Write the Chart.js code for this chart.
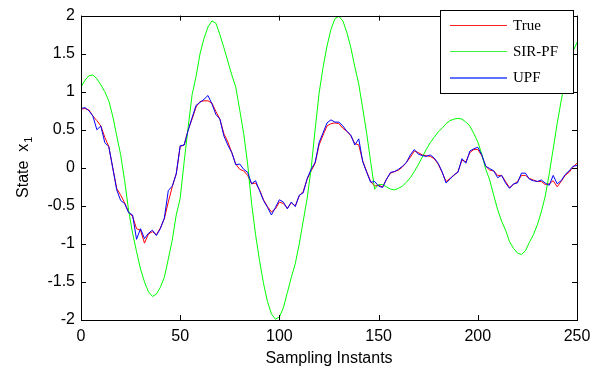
<!DOCTYPE html>
<html>
<head>
<meta charset="utf-8">
<script src="https://cdn.jsdelivr.net/npm/chart.js@4.4.0/dist/chart.umd.min.js"></script>
<style>
  html, body { margin: 0; padding: 0; background: #fff; }
  #wrap { width: 602px; height: 372px; }
</style>
</head>
<body>
<div id="wrap"><canvas id="myChart"></canvas></div>
<script>
// state x1, one value every 2 sampling instants (0..250)
const trueVals = [
  0.77, 0.78, 0.76, 0.68, 0.62, 0.55, 0.40, 0.28, 0.00, -0.27, -0.36, -0.46, -0.58,
  -0.64, -0.80, -0.82, -0.99, -0.87, -0.84, -0.88, -0.79, -0.67, -0.45, -0.25, -0.08, 0.28,
  0.30, 0.50, 0.64, 0.80, 0.87, 0.88, 0.88, 0.85, 0.74, 0.64, 0.45, 0.34, 0.20,
  0.05, -0.02, -0.04, -0.10, -0.21, -0.20, -0.29, -0.42, -0.51, -0.58, -0.54, -0.45,
  -0.47, -0.53, -0.46, -0.50, -0.37, -0.31, -0.15, -0.04, 0.06, 0.30, 0.43, 0.55, 0.58,
  0.59, 0.58, 0.52, 0.48, 0.42, 0.32, 0.30, 0.09, -0.05, -0.18, -0.24, -0.23,
  -0.25, -0.15, -0.07, -0.05, -0.03, 0.01, 0.07, 0.14, 0.22, 0.20, 0.17, 0.16, 0.15,
  0.12, 0.05, -0.06, -0.18, -0.14, -0.10, -0.05, 0.10, 0.08, 0.20, 0.24, 0.24,
  0.16, 0.02, -0.03, -0.04, -0.10, -0.10, -0.18, -0.26, -0.22, -0.18, -0.10, -0.10, -0.14,
  -0.16, -0.18, -0.18, -0.22, -0.21, -0.17, -0.25, -0.18, -0.10, -0.06, 0.01, 0.06
]

const sirVals = [
  1.06, 1.15, 1.21, 1.22, 1.17, 1.09, 1.00, 0.88, 0.68, 0.42, 0.17, -0.17, -0.56,
  -0.86, -1.10, -1.33, -1.50, -1.63, -1.69, -1.66, -1.57, -1.44, -1.20, -0.95, -0.62, -0.40,
  0.08, 0.53, 0.96, 1.20, 1.50, 1.70, 1.85, 1.93, 1.90, 1.75, 1.58, 1.40, 1.22,
  1.06, 0.76, 0.45, 0.05, -0.47, -0.88, -1.22, -1.52, -1.76, -1.92, -1.99, -1.96,
  -1.84, -1.64, -1.44, -1.26, -1.00, -0.70, -0.40, -0.01, 0.50, 0.98, 1.32, 1.60, 1.82,
  1.96, 1.99, 1.93, 1.78, 1.58, 1.33, 1.10, 0.78, 0.45, 0.08, -0.28, -0.22,
  -0.22, -0.25, -0.28, -0.29, -0.27, -0.24, -0.19, -0.13, -0.05, 0.04, 0.14, 0.24, 0.33,
  0.40, 0.47, 0.52, 0.58, 0.62, 0.64, 0.65, 0.64, 0.60, 0.55, 0.45, 0.34,
  0.18, -0.02, -0.16, -0.36, -0.55, -0.70, -0.82, -0.97, -1.06, -1.12, -1.14, -1.09, -0.98,
  -0.88, -0.75, -0.58, -0.37, -0.08, 0.25, 0.58, 0.88, 1.15, 1.38, 1.53, 1.65
]

const upfVals = [
  0.78, 0.79, 0.75, 0.68, 0.50, 0.55, 0.33, 0.28, 0.00, -0.29, -0.43, -0.47, -0.59,
  -0.62, -0.94, -0.80, -0.93, -0.86, -0.82, -0.89, -0.80, -0.66, -0.30, -0.24, -0.08, 0.29,
  0.30, 0.49, 0.66, 0.82, 0.86, 0.90, 0.95, 0.84, 0.70, 0.64, 0.42, 0.30, 0.20,
  0.04, 0.05, -0.02, -0.06, -0.21, -0.17, -0.30, -0.43, -0.52, -0.62, -0.52, -0.42,
  -0.45, -0.54, -0.45, -0.51, -0.36, -0.33, -0.14, -0.02, 0.07, 0.33, 0.46, 0.59, 0.63,
  0.60, 0.60, 0.55, 0.48, 0.43, 0.30, 0.38, 0.08, -0.06, -0.19, -0.18, -0.24,
  -0.26, -0.15, -0.06, -0.05, -0.02, 0.02, 0.07, 0.17, 0.24, 0.18, 0.16, 0.15, 0.17,
  0.13, 0.06, -0.05, -0.20, -0.15, -0.09, -0.06, 0.12, 0.06, 0.22, 0.25, 0.27,
  0.17, 0.02, -0.01, -0.04, -0.13, -0.10, -0.20, -0.27, -0.21, -0.20, -0.07, -0.07, -0.15,
  -0.17, -0.18, -0.16, -0.20, -0.23, -0.10, -0.21, -0.17, -0.09, -0.04, 0.02, 0.03
]

const seriesNames = ["True", "SIR-PF", "UPF"]
const seriesColors = ["#ff0000", "#00ff00", "#0000ff"]
const legendColors = ["#ff2020", "#40f040", "#6070ff"]
const xTicks = [0, 50, 100, 150, 200, 250]
const yTicks = [-2, -1.5, -1, -0.5, 0, 0.5, 1, 1.5, 2]

// sampling instant of each value
const instants = trueVals.map(function (v, i) { return i * 2 })

function toPoints(vals) {
  return vals.map(function (v, i) { return { x: instants[i], y: v } })
}

// matlab style frame: box, inward ticks, y label with subscript, boxed legend
var matlabFrame = {
  id: 'matlabFrame',
  afterDraw: function (chart) {
    var ctx = chart.ctx
    var a = chart.chartArea
    var xs = chart.scales.x
    var ys = chart.scales.y
    ctx.save()
    ctx.strokeStyle = '#000'
    ctx.lineWidth = 1
    ctx.beginPath()
    xTicks.forEach(function (t) {
      var px = Math.round(xs.getPixelForValue(t)) + 0.5
      ctx.moveTo(px, a.bottom); ctx.lineTo(px, a.bottom - 5)
      ctx.moveTo(px, a.top); ctx.lineTo(px, a.top + 5)
    })
    yTicks.forEach(function (t) {
      var py = Math.round(ys.getPixelForValue(t)) + 0.5
      ctx.moveTo(a.left, py); ctx.lineTo(a.left + 5, py)
      ctx.moveTo(a.right, py); ctx.lineTo(a.right - 5, py)
    })
    ctx.stroke()
    ctx.strokeRect(Math.round(a.left) + 0.5, Math.round(a.top) + 0.5,
      Math.round(a.right - a.left), Math.round(a.bottom - a.top))

    // y axis title
    ctx.save()
    ctx.translate(28, (a.top + a.bottom) / 2)
    ctx.rotate(-Math.PI / 2)
    ctx.fillStyle = '#000'
    ctx.textBaseline = 'alphabetic'
    ctx.textAlign = 'left'
    var main = 'State  x'
    ctx.font = '16px "Liberation Sans", Arial, sans-serif'
    var w1 = ctx.measureText(main).width
    ctx.font = '11px "Liberation Sans", Arial, sans-serif'
    var w2 = ctx.measureText('1').width
    var start = -(w1 + w2) / 2
    ctx.font = '16px "Liberation Sans", Arial, sans-serif'
    ctx.fillText(main, start, 0)
    ctx.font = '11px "Liberation Sans", Arial, sans-serif'
    ctx.fillText('1', start + w1 + 1, 4)
    ctx.restore()

    // legend box
    var lx = 440, ly = 10, lw = 133, lh = 83
    ctx.fillStyle = '#fff'
    ctx.fillRect(lx, ly, lw, lh)
    ctx.lineWidth = 1
    ctx.strokeStyle = '#000'
    ctx.strokeRect(lx + 0.5, ly + 0.5, lw, lh)
    ctx.font = '15px "Liberation Serif", "Times New Roman", serif'
    ctx.textBaseline = 'middle'
    ctx.textAlign = 'left'
    seriesNames.forEach(function (name, i) {
      var yy = ly + 15 + i * 26
      ctx.fillStyle = legendColors[i]
      ctx.fillRect(450, yy, 57, i === 2 ? 2 : 1)
      ctx.fillStyle = '#000'
      ctx.fillText(name, 513, yy + 1)
    })
    ctx.restore()
  }
}

function tickText(value) {
  return String(value)
}

function drawChart() {
  Chart.defaults.color = '#000'
  Chart.defaults.font.family = '"Liberation Sans", Arial, sans-serif'
  Chart.defaults.font.size = 16

  var ctx = document.getElementById('myChart').getContext('2d')
  var chart = new Chart(ctx, {
    type: 'line',
    data: {
      datasets: [
        { label: seriesNames[0], data: toPoints(trueVals), borderColor: seriesColors[0], order: 3 },
        { label: seriesNames[1], data: toPoints(sirVals), borderColor: seriesColors[1], order: 2 },
        { label: seriesNames[2], data: toPoints(upfVals), borderColor: seriesColors[2], order: 1 }
      ]
    },
    options: {
      responsive: true,
      maintainAspectRatio: false,
      animation: false,
      layout: { padding: { top: 7, right: 25, left: 0, bottom: 0 } },
      elements: {
        line: { borderWidth: 1, tension: 0, fill: false },
        point: { radius: 0 }
      },
      plugins: {
        legend: { display: false },
        tooltip: { enabled: false }
      },
      scales: {
        x: {
          type: 'linear',
          min: 0,
          max: 250,
          afterFit: function (s) { s.height = 52 },
          afterBuildTicks: function (s) { s.ticks = xTicks.map(function (v) { return { value: v } }) },
          grid: { display: false, drawTicks: false },
          border: { display: false },
          ticks: { padding: 7, maxRotation: 0, callback: tickText },
          title: { display: true, text: 'Sampling Instants', padding: { top: 0, bottom: 4 } }
        },
        y: {
          min: -2,
          max: 2,
          afterFit: function (s) { s.width = 81 },
          afterBuildTicks: function (s) { s.ticks = yTicks.map(function (v) { return { value: v } }) },
          grid: { display: false, drawTicks: false },
          border: { display: false },
          ticks: { padding: 6, callback: tickText }
        }
      }
    },
    plugins: [matlabFrame]
  })
}

drawChart()
</script>
</body>
</html>
